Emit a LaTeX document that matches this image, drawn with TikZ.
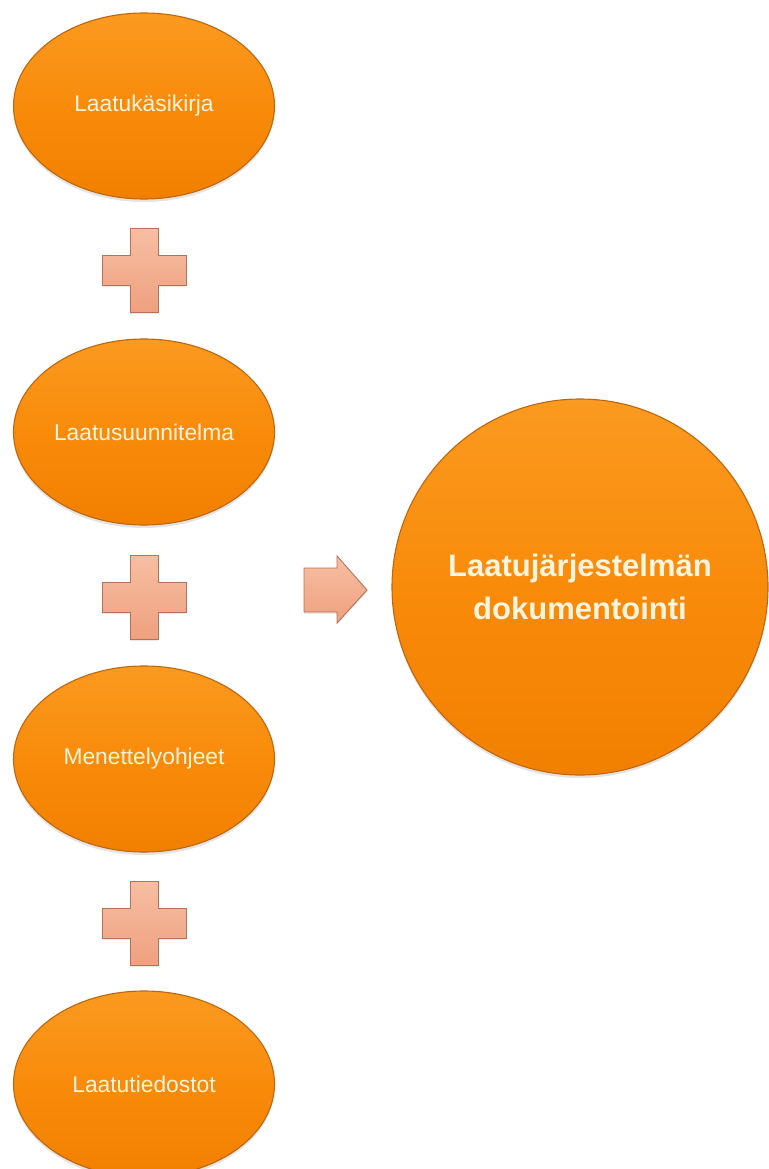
\documentclass[tikz,border=0pt]{standalone}
\usepackage{fontspec}
\setmainfont{Liberation Sans}
\usetikzlibrary{shapes.geometric,shadows,shadings}
\definecolor{orTop}{HTML}{FA9A20}
\definecolor{orMid}{HTML}{F98B0A}
\definecolor{orBot}{HTML}{F28000}
\definecolor{orEdge}{HTML}{C0660C}
\definecolor{txtCream}{HTML}{FFF4DE}
\definecolor{plTop}{HTML}{F7BEA2}
\definecolor{plBot}{HTML}{EEA17F}
\definecolor{plEdge}{HTML}{B57259}
\tikzset{
  orangeshape/.style={draw=orEdge, line width=1.1pt, top color=orTop, bottom color=orBot, middle color=orMid,
    drop shadow={shadow xshift=0pt, shadow yshift=-3pt, opacity=0.22, fill=black!50},
    text=txtCream, align=center, inner sep=0pt},
  docell/.style={orangeshape, ellipse, minimum width=261pt, minimum height=186pt,
    font=\fontsize{22.8}{27}\selectfont},
  bigcirc/.style={orangeshape, circle, minimum size=376pt,
    font=\fontsize{31}{43}\selectfont\bfseries},
  plusstyle/.style={draw=plEdge, line width=0.9pt, top color=plTop, bottom color=plBot,
    drop shadow={shadow xshift=0pt, shadow yshift=-2pt, opacity=0.18, fill=black!50}},
  plussign/.pic={
    \path[plusstyle] (-14,-42) -- (14,-42) -- (14,-15) -- (42,-15) -- (42,15) -- (14,15)
      -- (14,42) -- (-14,42) -- (-14,15) -- (-42,15) -- (-42,-15) -- (-14,-15) -- cycle;
  }
}
\begin{document}
\begin{tikzpicture}[x=1pt, y=-1pt]
\useasboundingbox (0,0) rectangle (768,1169);
\node[docell] (e1) at (144,106) {Laatukäsikirja};
\node[docell] (e2) at (144,432) {Laatusuunnitelma};
\node[docell] (e3) at (144,759) {Menettelyohjeet};
\node[docell] (e4) at (144,1084) {Laatutiedostot};
\node[bigcirc] (big) at (580,587) {Laatujärjestelmän\\dokumentointi};
\coordinate (p1) at (144,270);
\coordinate (p2) at (144,597);
\coordinate (p3) at (144,923);
\pic at (p1) {plussign};
\pic at (p2) {plussign};
\pic at (p3) {plussign};
\coordinate (ar) at (304,590);
\path[plusstyle] (ar) ++(0,-22) -- ++(33,0) -- ++(0,-12) -- ++(30,34) -- ++(-30,33) -- ++(0,-11) -- ++(-33,0) -- cycle;
\end{tikzpicture}
\end{document}
